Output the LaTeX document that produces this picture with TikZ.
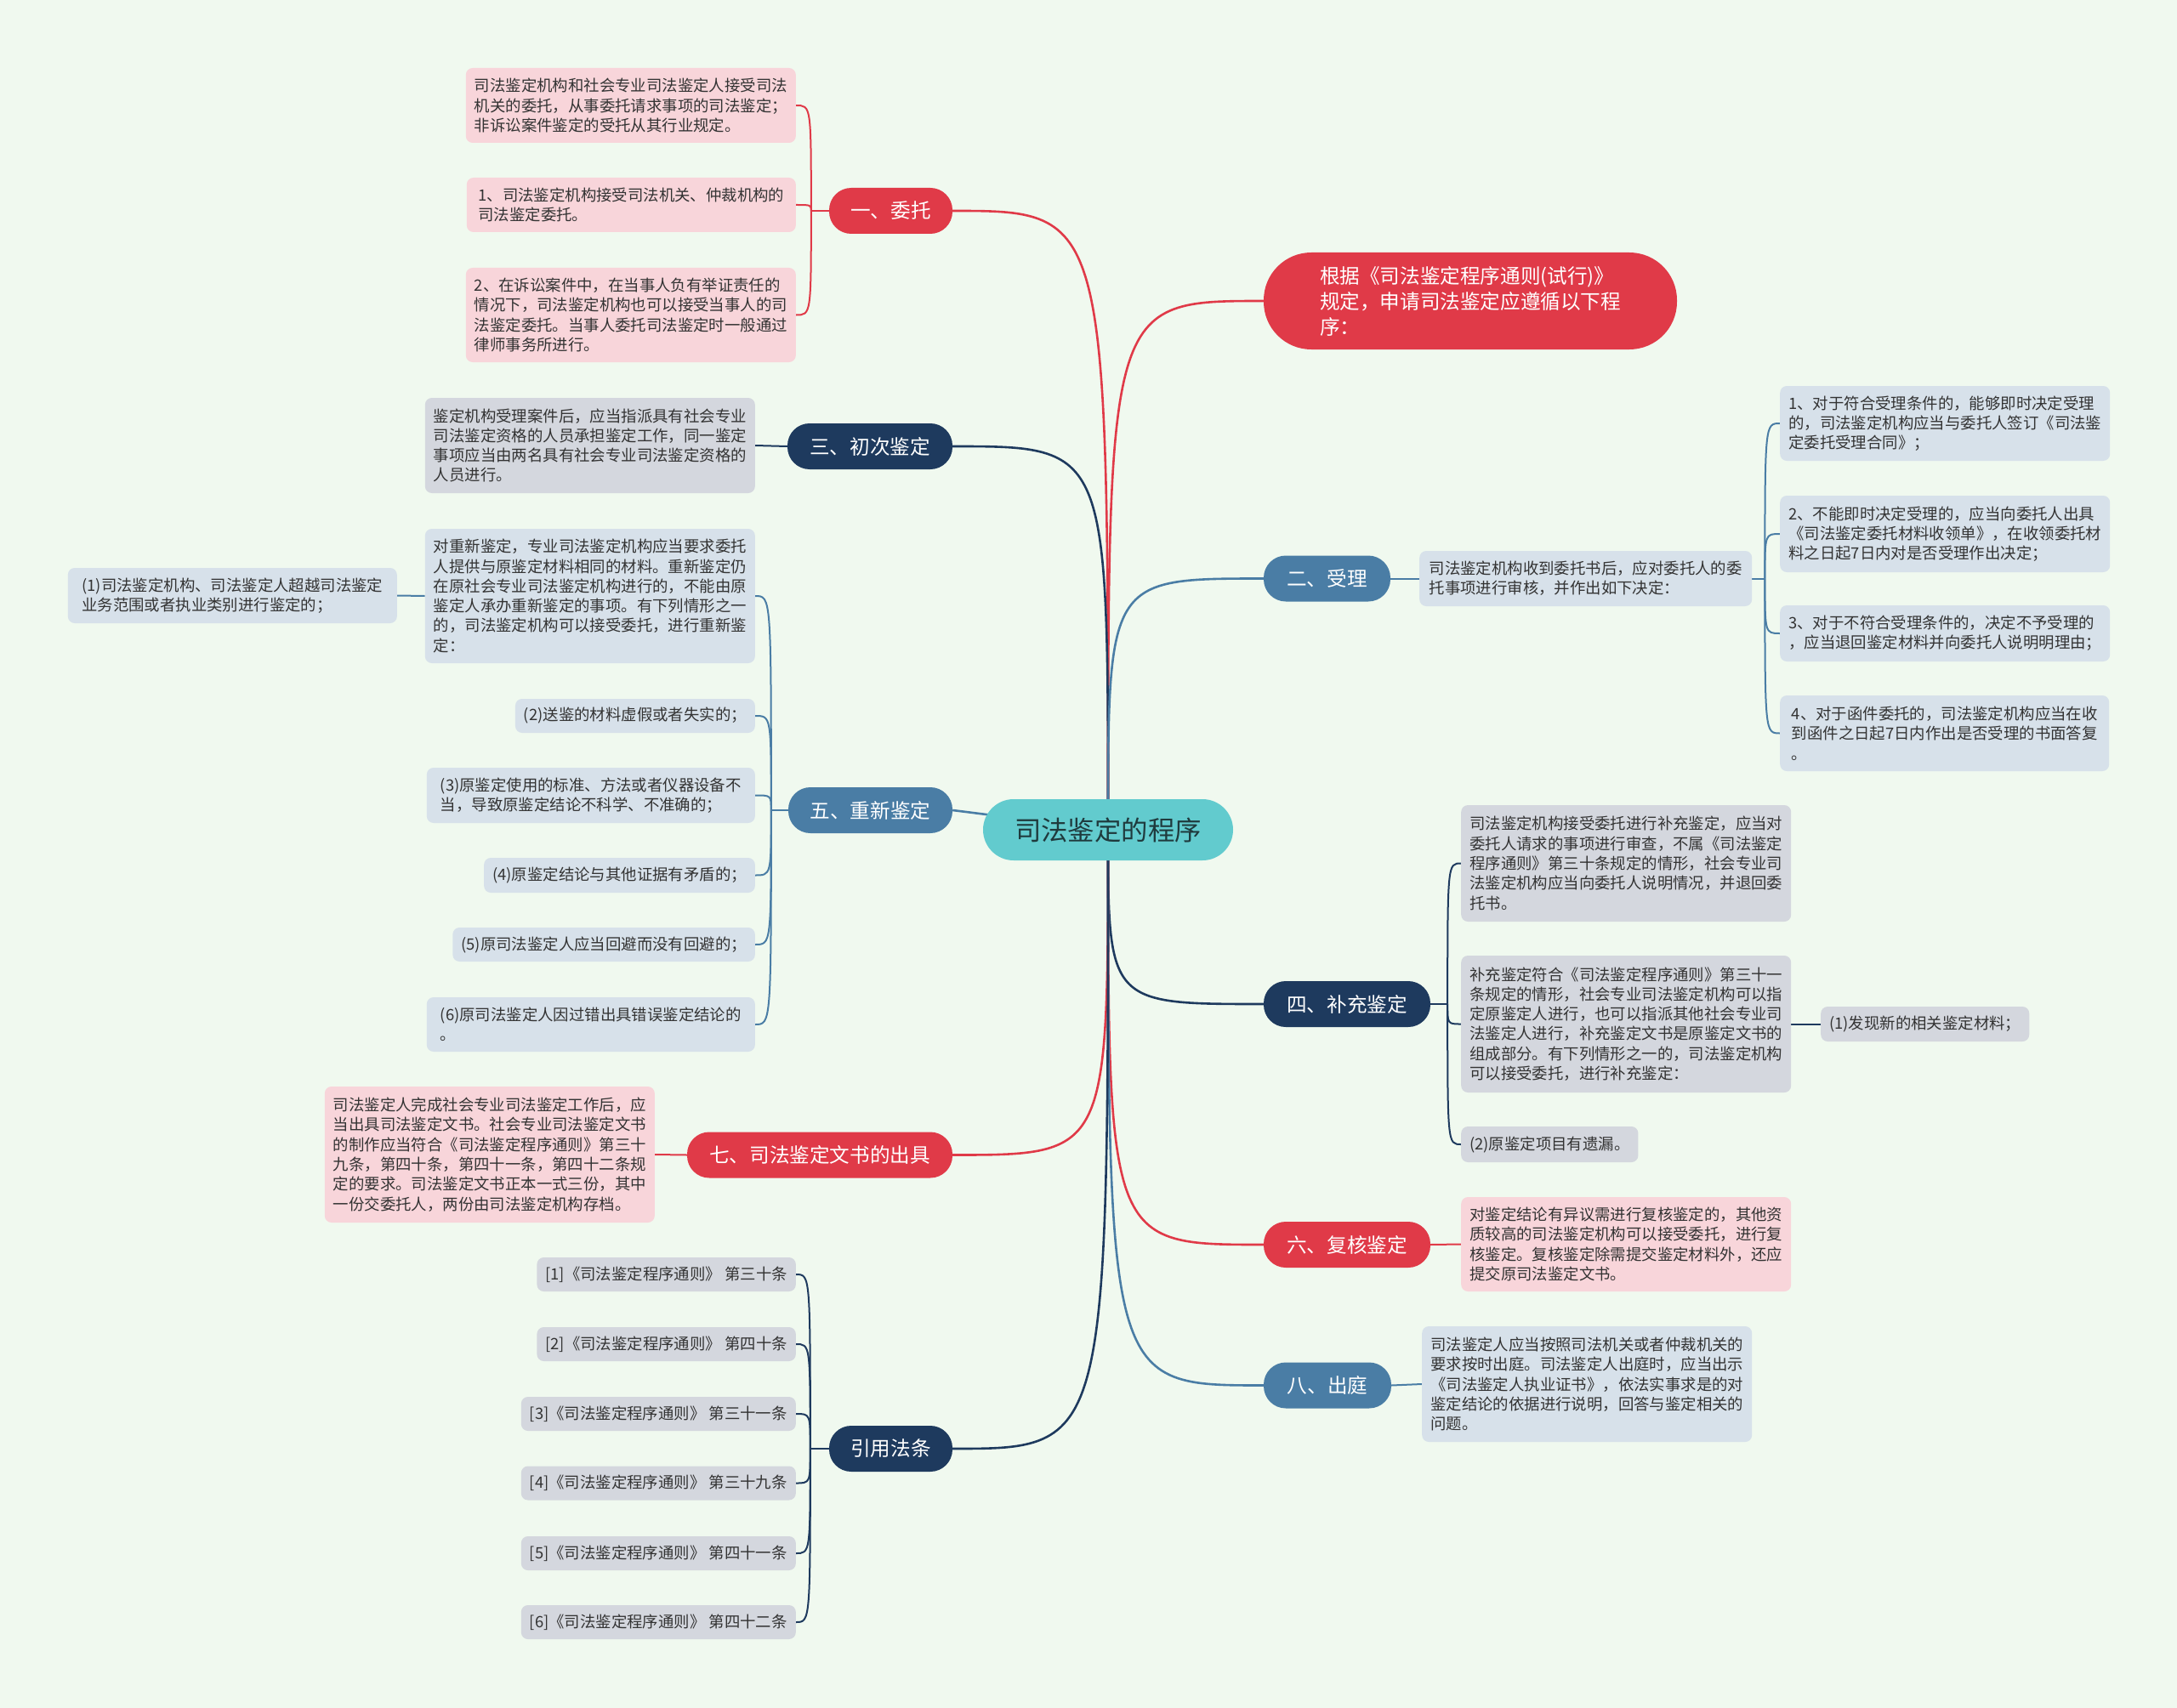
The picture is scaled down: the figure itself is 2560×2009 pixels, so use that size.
\documentclass[tikz,border=0pt]{standalone}
\usepackage{fontspec}
\setmainfont{Noto Sans CJK SC}
\usepackage{tikz}
\definecolor{bgpaper}{HTML}{F0F9EF}
\definecolor{rootc}{HTML}{62CBCE}
\definecolor{rootink}{HTML}{1F3A3D}
\definecolor{redc}{HTML}{E03A48}
\definecolor{bluec}{HTML}{4A7DA5}
\definecolor{navyc}{HTML}{1E3A5E}
\definecolor{pinkbg}{HTML}{F8D5DA}
\definecolor{bluebg}{HTML}{D7E1EA}
\definecolor{graybg}{HTML}{D4D7DE}
\definecolor{ink}{HTML}{333333}
\pgfdeclarelayer{paperlayer}
\pgfdeclarelayer{linelayer}
\pgfsetlayers{paperlayer,linelayer,main}
\newcommand{\leaffont}{\fontsize{18.4pt}{23.3pt}\selectfont}
\newcommand{\brfont}{\fontsize{23.6pt}{30pt}\selectfont}
\newcommand{\rootfont}{\fontsize{31.4pt}{36pt}\selectfont}

\begin{document}
\begin{tikzpicture}[x=1pt,y=-1pt,font=\leaffont,
  leafbox/.style={rounded corners=8pt,align=left,text=ink,font=\leaffont,inner xsep=10pt,inner ysep=2pt},
  pinkbox/.style={leafbox,fill=pinkbg},
  bluebox/.style={leafbox,fill=bluebg},
  graybox/.style={leafbox,fill=graybg},
  brbox/.style={rounded corners=26pt,text=white,font=\brfont,inner sep=0pt,minimum height=54pt},
  redbr/.style={brbox,fill=redc},
  bluebr/.style={brbox,fill=bluec},
  navybr/.style={brbox,fill=navyc},
  redln/.style={draw=redc,line width=2pt},
  blueln/.style={draw=bluec,line width=2pt},
  navyln/.style={draw=navyc,line width=2pt},
  trunk/.style={line width=2.6pt}]
  % paper
  \begin{pgfonlayer}{paperlayer}
    \fill[bgpaper] (0,0) rectangle (2560,2009);
  \end{pgfonlayer}

  % root and main branches
  \node[fill=rootc,rounded corners=36pt,minimum width=294pt,minimum height=72pt,inner sep=0pt,font=\rootfont,text=rootink] (root) at (1303,976) {司法鉴定的程序};
  \node[redbr,minimum width=145pt] (wt) at (1047.5,248) {一、委托};
  \node[redbr,rounded corners=56pt,minimum width=486pt,minimum height=114pt,align=left] (basis) at (1729,354) {根据《司法鉴定程序通则(试行)》\\规定，申请司法鉴定应遵循以下程\\序：};
  \node[bluebr,minimum width=149pt] (sl) at (1560.5,680.5) {二、受理};
  \node[navybr,minimum width=194pt] (cc) at (1023,525) {三、初次鉴定};
  \node[bluebr,minimum width=193pt] (cx) at (1023.5,953) {五、重新鉴定};
  \node[navybr,minimum width=196pt] (bc) at (1584,1181) {四、补充鉴定};
  \node[redbr,minimum width=196pt] (fh) at (1584,1464) {六、复核鉴定};
  \node[redbr,minimum width=312pt] (ws) at (964,1358.5) {七、司法鉴定文书的出具};
  \node[bluebr,minimum width=150pt] (ct) at (1561,1629.5) {八、出庭};
  \node[navybr,minimum width=145pt] (yy) at (1047.5,1704) {引用法条};

  % 一 -- pink notes
  \node[pinkbox,anchor=east,minimum width=387pt,minimum height=88pt] (wt1) at (936,124) {司法鉴定机构和社会专业司法鉴定人接受司法\\机关的委托，从事委托请求事项的司法鉴定；\\非诉讼案件鉴定的受托从其行业规定。};
  \node[pinkbox,anchor=east,minimum width=387pt,minimum height=64pt] (wt2) at (936,241) {1、司法鉴定机构接受司法机关、仲裁机构的\\司法鉴定委托。};
  \node[pinkbox,anchor=east,minimum width=387pt,minimum height=111pt] (wt3) at (936,370.5) {2、在诉讼案件中，在当事人负有举证责任的\\情况下，司法鉴定机构也可以接受当事人的司\\法鉴定委托。当事人委托司法鉴定时一般通过\\律师事务所进行。};

  % 三
  \node[graybox,anchor=east,minimum width=386pt,minimum height=112pt] (cc1) at (888,524) {鉴定机构受理案件后，应当指派具有社会专业\\司法鉴定资格的人员承担鉴定工作，同一鉴定\\事项应当由两名具有社会专业司法鉴定资格的\\人员进行。};

  % 五 -- main note plus the listed cases
  \node[bluebox,anchor=east,minimum width=386pt,minimum height=158pt] (cxm) at (888,701) {对重新鉴定，专业司法鉴定机构应当要求委托\\人提供与原鉴定材料相同的材料。重新鉴定仍\\在原社会专业司法鉴定机构进行的，不能由原\\鉴定人承办重新鉴定的事项。有下列情形之一\\的，司法鉴定机构可以接受委托，进行重新鉴\\定：};
  \node[bluebox,anchor=east,minimum width=387pt,minimum height=65pt] (cxm1) at (467,700.5) {(1)司法鉴定机构、司法鉴定人超越司法鉴定\\业务范围或者执业类别进行鉴定的；};
  \node[bluebox,anchor=east,minimum width=280pt,minimum height=40pt] (cx2) at (888,842) {(2)送鉴的材料虚假或者失实的；};
  \node[bluebox,anchor=east,minimum width=386pt,minimum height=65pt] (cx3) at (888,935.5) {(3)原鉴定使用的标准、方法或者仪器设备不\\当，导致原鉴定结论不科学、不准确的；};
  \node[bluebox,anchor=east,minimum width=317pt,minimum height=41pt] (cx4) at (888,1029.5) {(4)原鉴定结论与其他证据有矛盾的；};
  \node[bluebox,anchor=east,minimum width=354pt,minimum height=40pt] (cx5) at (888,1111) {(5)原司法鉴定人应当回避而没有回避的；};
  \node[bluebox,anchor=east,minimum width=386pt,minimum height=64pt] (cx6) at (888,1205) {(6)原司法鉴定人因过错出具错误鉴定结论的\\。};

  % 七
  \node[pinkbox,anchor=east,minimum width=386pt,minimum height=160pt] (ws1) at (770,1358) {司法鉴定人完成社会专业司法鉴定工作后，应\\当出具司法鉴定文书。社会专业司法鉴定文书\\的制作应当符合《司法鉴定程序通则》第三十\\九条，第四十条，第四十一条，第四十二条规\\定的要求。司法鉴定文书正本一式三份，其中\\一份交委托人，两份由司法鉴定机构存档。};

  % 引用法条 -- right-aligned list
  \foreach \i/\y/\w/\l in {1/1499/304/三十,2/1581/304/四十,3/1663/323/三十一,4/1744.5/323/三十九,5/1827/323/四十一,6/1908/323/四十二} {
    \node[graybox,anchor=east,minimum width=\w pt,minimum height=40pt] (yy\i) at (936,\y) {[\i]《司法鉴定程序通则》 第\l{}条};
  }

  % 二
  \node[bluebox,anchor=west,minimum width=391pt,minimum height=65pt] (sl0) at (1669,680.5) {司法鉴定机构收到委托书后，应对委托人的委\\托事项进行审核，并作出如下决定：};
  \node[bluebox,anchor=west,minimum width=387pt,minimum height=88pt] (sl1) at (2093,498) {1、对于符合受理条件的，能够即时决定受理\\的，司法鉴定机构应当与委托人签订《司法鉴\\定委托受理合同》；};
  \node[bluebox,anchor=west,minimum width=387pt,minimum height=90pt] (sl2) at (2093,628) {2、不能即时决定受理的，应当向委托人出具\\《司法鉴定委托材料收领单》，在收领委托材\\料之日起7日内对是否受理作出决定；};
  \node[bluebox,anchor=west,minimum width=387pt,minimum height=66pt] (sl3) at (2093,745) {3、对于不符合受理条件的，决定不予受理的\\，应当退回鉴定材料并向委托人说明明理由；};
  \node[bluebox,anchor=west,minimum width=387pt,minimum height=89pt] (sl4) at (2093,862.5) {4、对于函件委托的，司法鉴定机构应当在收\\到函件之日起7日内作出是否受理的书面答复\\。};

  % 四
  \node[graybox,anchor=west,minimum width=387pt,minimum height=137pt] (bc1) at (1718,1015.5) {司法鉴定机构接受委托进行补充鉴定，应当对\\委托人请求的事项进行审查，不属《司法鉴定\\程序通则》第三十条规定的情形，社会专业司\\法鉴定机构应当向委托人说明情况，并退回委\\托书。};
  \node[graybox,anchor=west,minimum width=387pt,minimum height=161pt] (bc2) at (1718,1204.5) {补充鉴定符合《司法鉴定程序通则》第三十一\\条规定的情形，社会专业司法鉴定机构可以指\\定原鉴定人进行，也可以指派其他社会专业司\\法鉴定人进行，补充鉴定文书是原鉴定文书的\\组成部分。有下列情形之一的，司法鉴定机构\\可以接受委托，进行补充鉴定：};
  \node[graybox,anchor=west,minimum width=243pt,minimum height=41pt] (bc21) at (2141,1204.5) {(1)发现新的相关鉴定材料；};
  \node[graybox,anchor=west,minimum width=207pt,minimum height=42pt] (bc3) at (1718,1346) {(2)原鉴定项目有遗漏。};

  % 六 and 八
  \node[pinkbox,anchor=west,minimum width=387pt,minimum height=111pt] (fh1) at (1718,1463.5) {对鉴定结论有异议需进行复核鉴定的，其他资\\质较高的司法鉴定机构可以接受委托，进行复\\核鉴定。复核鉴定除需提交鉴定材料外，还应\\提交原司法鉴定文书。};
  \node[bluebox,anchor=west,minimum width=385pt,minimum height=136pt] (ct1) at (1672,1628) {司法鉴定人应当按照司法机关或者仲裁机关的\\要求按时出庭。司法鉴定人出庭时，应当出示\\《司法鉴定人执业证书》，依法实事求是的对\\鉴定结论的依据进行说明，回答与鉴定相关的\\问题。};

  \begin{pgfonlayer}{linelayer}
    % trunk lines, all from the root centre
    \draw[redln,trunk] (root.center) .. controls (root.center |- wt.east) .. (wt.east);
    \draw[redln,trunk] (root.center) .. controls (root.center |- basis.west) .. (basis.west);
    \draw[navyln,trunk] (root.center) .. controls (root.center |- cc.east) .. (cc.east);
    \draw[blueln,trunk] (root.center) .. controls (root.center |- sl.west) .. (sl.west);
    \draw[blueln,trunk] (root.center) -- (cx.east);
    \draw[navyln,trunk] (root.center) .. controls (root.center |- bc.west) .. (bc.west);
    \draw[redln,trunk] (root.center) .. controls (root.center |- fh.west) .. (fh.west);
    \draw[redln,trunk] (root.center) .. controls (root.center |- ws.east) .. (ws.east);
    \draw[blueln,trunk] (root.center) .. controls (root.center |- ct.west) .. (ct.west);
    \draw[navyln,trunk] (root.center) .. controls (root.center |- yy.east) .. (yy.east);

    % brackets to the notes
    \path (wt.west) ++(-21pt,0pt) coordinate (wtj);
    \draw[redln] (wt.west) -- (wtj);
    \foreach \i in {1,2,3} \draw[redln] (wtj) .. controls (wtj |- wt\i.east) .. (wt\i.east);

    \draw[navyln] (cc.west) -- (cc1.east);

    \path (cx.west) ++(-20pt,0pt) coordinate (cxj);
    \draw[blueln] (cx.west) -- (cxj);
    \foreach \i in {m,2,3,4,5,6} \draw[blueln] (cxj) .. controls (cxj |- cx\i.east) .. (cx\i.east);
    \draw[blueln] (cxm.west) -- (cxm1.east);

    \draw[redln] (ws.west) -- (ws1.east);

    \path (yy.west) ++(-22pt,0pt) coordinate (yyj);
    \draw[navyln] (yy.west) -- (yyj);
    \foreach \i in {1,...,6} \draw[navyln] (yyj) .. controls (yyj |- yy\i.east) .. (yy\i.east);

    \draw[blueln] (sl.east) -- (sl0.west);
    \path (sl0.east) ++(15pt,0pt) coordinate (slj);
    \draw[blueln] (sl0.east) -- (slj);
    \foreach \i in {1,2,3,4} \draw[blueln] (slj) .. controls (slj |- sl\i.west) .. (sl\i.west);

    \path (bc.east) ++(20pt,0pt) coordinate (bcj);
    \draw[navyln] (bc.east) -- (bcj);
    \foreach \i in {1,2,3} \draw[navyln] (bcj) .. controls (bcj |- bc\i.west) .. (bc\i.west);
    \draw[navyln] (bc2.east) -- (bc21.west);

    \draw[redln] (fh.east) -- (fh1.west);
    \draw[blueln] (ct.east) -- (ct1.west);
  \end{pgfonlayer}
\end{tikzpicture}
\end{document}
